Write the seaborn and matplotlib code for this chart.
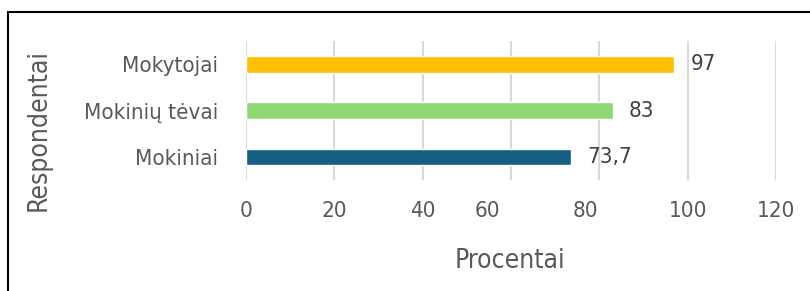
import matplotlib
matplotlib.use("Agg")
import matplotlib.pyplot as plt
import matplotlib.transforms as mtransforms
from matplotlib.patches import Rectangle
import pandas as pd
import seaborn as sns

# --- duomenys ---
respondentai = ["Mokytojai", "Mokinių tėvai", "Mokiniai"]
procentai = [97, 83, 73.7]
spalvos = ["#FFC000", "#8ED973", "#156082"]
x_ticks = [0, 20, 40, 60, 80, 100, 120]

sns.set_theme(style="white")
plt.rcParams['font.family'] = ['DejaVu Sans']
plt.rcParams['font.stretch'] = 'condensed'

df = pd.DataFrame({"Respondentai": respondentai, "Procentai": procentai})

fig = plt.figure(figsize=(8.1, 2.91), dpi=100)
ax = fig.add_axes([0.3037, 0.3814, 0.6543, 0.4777])

sns.barplot(data=df, y="Respondentai", x="Procentai", hue="Respondentai",
            palette=spalvos, orient="h", width=0.36, saturation=1,
            legend=False, ax=ax)

ax.set_xlim(0, 120)
ax.set_xticks(x_ticks)
ax.grid(axis="x", color="#D9D9D9", linewidth=1.5)
ax.grid(axis="y", visible=False)
ax.set_axisbelow(True)
for s in ax.spines.values():
    s.set_visible(False)

ax.tick_params(axis="both", length=0, labelsize=16, labelcolor="#595959")
ax.tick_params(axis="y", pad=20)
ax.tick_params(axis="x", pad=15)

# reikšmių užrašai
for cont, v in zip(ax.containers, procentai):
    txt = f"{v:g}".replace(".", ",")
    ax.bar_label(cont, labels=[txt], padding=11.5, fontsize=16, color="#404040")

ax.set_xlabel("Procentai", fontsize=19, color="#595959")
ax.set_ylabel("Respondentai", fontsize=19, color="#595959")
ax.xaxis.set_label_coords(0.498, -0.489)
ax.yaxis.set_label_coords(-0.366, 0.36)

# kaip originale: 60 ir 80 užrašai pasislinkę į kairę
for lbl, dx in zip(ax.get_xticklabels()[3:5], [-24, -14]):
    off = mtransforms.ScaledTranslation(dx / 100, 0, fig.dpi_scale_trans)
    lbl.set_transform(lbl.get_transform() + off)

# rėmelis
fig.add_artist(Rectangle((0.0099, -0.2), 1.5, 1.1588, transform=fig.transFigure,
                         fill=False, edgecolor="black", linewidth=1.5, clip_on=False))

plt.savefig("out.png", dpi=100)
